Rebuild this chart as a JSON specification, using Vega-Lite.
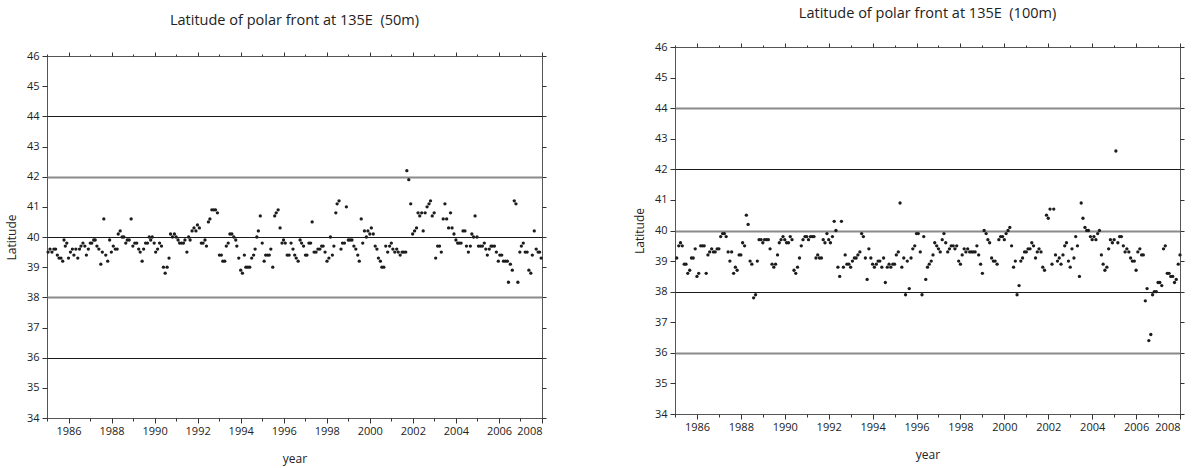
{
  "$schema": "https://vega.github.io/schema/vega-lite/v6.json",
  "background": "white",
  "padding": {"left": 4, "top": 2, "right": 8, "bottom": 2},
  "config": {
    "view": {"stroke": "#555", "strokeWidth": 1},
    "font": "Open Sans",
    "title": {"fontSize": 14.5, "fontWeight": "normal", "color": "#222", "font": "Open Sans"}
  },
  "datasets": {
    "p50": [
      {"t":1985.05,"v":39.5},{"t":1985.14,"v":39.6},{"t":1985.23,"v":39.5},{"t":1985.32,"v":39.6},{"t":1985.40,"v":39.6},{"t":1985.48,"v":39.4},{"t":1985.56,"v":39.3},{"t":1985.65,"v":39.3},{"t":1985.73,"v":39.2},{"t":1985.79,"v":39.9},{"t":1985.85,"v":39.7},{"t":1985.92,"v":39.8},
      {"t":1986.00,"v":39.3},{"t":1986.09,"v":39.5},{"t":1986.18,"v":39.6},{"t":1986.25,"v":39.4},{"t":1986.34,"v":39.6},{"t":1986.43,"v":39.3},{"t":1986.51,"v":39.6},{"t":1986.58,"v":39.7},{"t":1986.67,"v":39.8},{"t":1986.76,"v":39.7},{"t":1986.83,"v":39.4},{"t":1986.92,"v":39.6},
      {"t":1987.01,"v":39.8},{"t":1987.08,"v":39.8},{"t":1987.17,"v":39.9},{"t":1987.24,"v":39.9},{"t":1987.32,"v":39.7},{"t":1987.41,"v":39.6},{"t":1987.50,"v":39.1},{"t":1987.57,"v":39.5},{"t":1987.64,"v":40.6},{"t":1987.73,"v":39.4},{"t":1987.82,"v":39.2},{"t":1987.91,"v":39.9},
      {"t":1987.99,"v":39.5},{"t":1988.08,"v":39.7},{"t":1988.17,"v":39.6},{"t":1988.26,"v":39.6},{"t":1988.31,"v":40.1},{"t":1988.40,"v":40.2},{"t":1988.49,"v":40.0},{"t":1988.57,"v":40.0},{"t":1988.66,"v":39.8},{"t":1988.73,"v":39.9},{"t":1988.82,"v":39.9},{"t":1988.91,"v":40.6},
      {"t":1988.99,"v":39.7},{"t":1989.08,"v":39.8},{"t":1989.17,"v":39.8},{"t":1989.26,"v":39.6},{"t":1989.33,"v":39.5},{"t":1989.42,"v":39.2},{"t":1989.49,"v":39.6},{"t":1989.58,"v":39.8},{"t":1989.67,"v":39.8},{"t":1989.75,"v":40.0},{"t":1989.82,"v":39.9},{"t":1989.89,"v":40.0},
      {"t":1989.98,"v":39.8},{"t":1990.05,"v":39.5},{"t":1990.14,"v":39.6},{"t":1990.23,"v":39.8},{"t":1990.32,"v":39.7},{"t":1990.41,"v":39.0},{"t":1990.49,"v":38.8},{"t":1990.58,"v":39.0},{"t":1990.67,"v":39.3},{"t":1990.74,"v":40.1},{"t":1990.83,"v":40.0},{"t":1990.92,"v":40.1},
      {"t":1991.00,"v":40.0},{"t":1991.09,"v":39.9},{"t":1991.16,"v":39.8},{"t":1991.25,"v":39.8},{"t":1991.34,"v":39.8},{"t":1991.41,"v":39.9},{"t":1991.50,"v":39.5},{"t":1991.58,"v":40.0},{"t":1991.65,"v":39.9},{"t":1991.74,"v":40.2},{"t":1991.83,"v":40.3},{"t":1991.92,"v":40.2},
      {"t":1991.99,"v":40.4},{"t":1992.08,"v":40.3},{"t":1992.17,"v":39.8},{"t":1992.25,"v":39.8},{"t":1992.34,"v":39.9},{"t":1992.41,"v":39.7},{"t":1992.50,"v":40.5},{"t":1992.57,"v":40.6},{"t":1992.66,"v":40.9},{"t":1992.75,"v":40.9},{"t":1992.83,"v":40.9},{"t":1992.92,"v":40.8},
      {"t":1993.01,"v":39.4},{"t":1993.10,"v":39.4},{"t":1993.17,"v":39.2},{"t":1993.26,"v":39.2},{"t":1993.33,"v":39.7},{"t":1993.42,"v":39.8},{"t":1993.50,"v":40.1},{"t":1993.59,"v":40.1},{"t":1993.68,"v":40.0},{"t":1993.77,"v":39.9},{"t":1993.82,"v":39.7},{"t":1993.91,"v":39.3},
      {"t":1994.00,"v":38.9},{"t":1994.08,"v":38.8},{"t":1994.17,"v":39.4},{"t":1994.24,"v":39.0},{"t":1994.33,"v":39.0},{"t":1994.42,"v":39.0},{"t":1994.51,"v":39.3},{"t":1994.60,"v":39.4},{"t":1994.67,"v":39.6},{"t":1994.75,"v":40.0},{"t":1994.82,"v":40.2},{"t":1994.91,"v":40.7},
      {"t":1995.00,"v":39.8},{"t":1995.09,"v":39.2},{"t":1995.16,"v":39.4},{"t":1995.25,"v":39.4},{"t":1995.33,"v":39.4},{"t":1995.40,"v":39.6},{"t":1995.49,"v":39.0},{"t":1995.58,"v":40.7},{"t":1995.65,"v":40.8},{"t":1995.74,"v":40.9},{"t":1995.83,"v":40.3},{"t":1995.92,"v":39.8},
      {"t":1995.99,"v":39.9},{"t":1996.07,"v":39.8},{"t":1996.16,"v":39.4},{"t":1996.25,"v":39.4},{"t":1996.34,"v":39.8},{"t":1996.43,"v":39.6},{"t":1996.51,"v":39.4},{"t":1996.58,"v":39.3},{"t":1996.67,"v":39.2},{"t":1996.76,"v":39.9},{"t":1996.83,"v":39.8},{"t":1996.92,"v":39.7},
      {"t":1997.01,"v":39.4},{"t":1997.08,"v":39.4},{"t":1997.17,"v":39.8},{"t":1997.25,"v":39.8},{"t":1997.32,"v":40.5},{"t":1997.41,"v":39.5},{"t":1997.50,"v":39.5},{"t":1997.59,"v":39.6},{"t":1997.68,"v":39.6},{"t":1997.76,"v":39.7},{"t":1997.83,"v":39.7},{"t":1997.92,"v":39.5},
      {"t":1998.01,"v":39.2},{"t":1998.10,"v":39.3},{"t":1998.17,"v":40.0},{"t":1998.26,"v":39.4},{"t":1998.33,"v":39.7},{"t":1998.42,"v":40.8},{"t":1998.48,"v":41.1},{"t":1998.57,"v":41.2},{"t":1998.66,"v":39.6},{"t":1998.73,"v":39.8},{"t":1998.82,"v":39.8},{"t":1998.91,"v":41.0},
      {"t":1999.00,"v":39.9},{"t":1999.08,"v":39.9},{"t":1999.17,"v":39.9},{"t":1999.26,"v":39.7},{"t":1999.35,"v":39.6},{"t":1999.44,"v":39.4},{"t":1999.51,"v":39.2},{"t":1999.60,"v":40.6},{"t":1999.67,"v":39.8},{"t":1999.75,"v":40.2},{"t":1999.84,"v":40.0},{"t":1999.91,"v":40.2},
      {"t":2000.00,"v":40.1},{"t":2000.07,"v":40.3},{"t":2000.16,"v":40.1},{"t":2000.25,"v":39.7},{"t":2000.33,"v":39.6},{"t":2000.40,"v":39.3},{"t":2000.49,"v":39.2},{"t":2000.56,"v":39.0},{"t":2000.65,"v":39.0},{"t":2000.74,"v":39.7},{"t":2000.83,"v":39.5},{"t":2000.92,"v":39.7},
      {"t":2001.00,"v":39.8},{"t":2001.07,"v":39.6},{"t":2001.16,"v":39.5},{"t":2001.25,"v":39.6},{"t":2001.32,"v":39.5},{"t":2001.41,"v":39.4},{"t":2001.50,"v":39.5},{"t":2001.58,"v":39.5},{"t":2001.67,"v":39.5},{"t":2001.72,"v":42.2},{"t":2001.81,"v":41.9},{"t":2001.90,"v":41.1},
      {"t":2001.99,"v":40.1},{"t":2002.08,"v":40.2},{"t":2002.17,"v":40.3},{"t":2002.24,"v":40.8},{"t":2002.32,"v":40.7},{"t":2002.41,"v":40.8},{"t":2002.48,"v":40.2},{"t":2002.57,"v":40.8},{"t":2002.66,"v":41.0},{"t":2002.75,"v":41.1},{"t":2002.82,"v":41.2},{"t":2002.90,"v":40.7},
      {"t":2002.99,"v":40.8},{"t":2003.06,"v":39.3},{"t":2003.15,"v":39.7},{"t":2003.24,"v":39.7},{"t":2003.32,"v":39.5},{"t":2003.41,"v":40.6},{"t":2003.49,"v":41.1},{"t":2003.57,"v":40.6},{"t":2003.66,"v":40.3},{"t":2003.75,"v":40.8},{"t":2003.82,"v":40.3},{"t":2003.91,"v":40.1},
      {"t":2004.00,"v":39.9},{"t":2004.08,"v":39.8},{"t":2004.15,"v":39.8},{"t":2004.24,"v":39.8},{"t":2004.33,"v":40.2},{"t":2004.42,"v":40.2},{"t":2004.49,"v":39.7},{"t":2004.58,"v":39.5},{"t":2004.67,"v":39.7},{"t":2004.74,"v":40.1},{"t":2004.82,"v":40.0},{"t":2004.89,"v":40.7},
      {"t":2004.98,"v":40.0},{"t":2005.05,"v":39.7},{"t":2005.14,"v":39.7},{"t":2005.23,"v":39.7},{"t":2005.32,"v":39.8},{"t":2005.39,"v":39.6},{"t":2005.46,"v":39.4},{"t":2005.55,"v":39.6},{"t":2005.63,"v":39.7},{"t":2005.70,"v":39.7},{"t":2005.79,"v":39.7},{"t":2005.88,"v":39.5},
      {"t":2005.97,"v":39.2},{"t":2006.04,"v":39.4},{"t":2006.13,"v":39.4},{"t":2006.21,"v":39.2},{"t":2006.30,"v":39.2},{"t":2006.39,"v":39.2},{"t":2006.44,"v":38.5},{"t":2006.53,"v":39.1},{"t":2006.62,"v":38.9},{"t":2006.71,"v":41.2},{"t":2006.79,"v":41.1},{"t":2006.88,"v":38.5},
      {"t":2006.97,"v":39.5},{"t":2007.04,"v":39.7},{"t":2007.13,"v":39.8},{"t":2007.22,"v":39.5},{"t":2007.31,"v":39.5},{"t":2007.39,"v":38.9},{"t":2007.48,"v":38.8},{"t":2007.55,"v":39.4},{"t":2007.64,"v":40.2},{"t":2007.73,"v":39.6},{"t":2007.82,"v":39.5},{"t":2007.89,"v":39.5},{"t":2007.96,"v":39.3}
    ],
    "p100": [
      {"t":1985.08,"v":39.1},{"t":1985.17,"v":39.5},{"t":1985.25,"v":39.6},{"t":1985.33,"v":39.5},{"t":1985.42,"v":38.9},{"t":1985.50,"v":38.9},{"t":1985.58,"v":38.6},{"t":1985.67,"v":38.7},{"t":1985.75,"v":39.1},{"t":1985.83,"v":39.1},{"t":1985.92,"v":39.4},{"t":1986.00,"v":38.5},
      {"t":1986.08,"v":38.6},{"t":1986.17,"v":39.5},{"t":1986.25,"v":39.5},{"t":1986.33,"v":39.5},{"t":1986.42,"v":38.6},{"t":1986.50,"v":39.2},{"t":1986.58,"v":39.3},{"t":1986.67,"v":39.4},{"t":1986.75,"v":39.3},{"t":1986.83,"v":39.3},{"t":1986.92,"v":39.4},{"t":1987.00,"v":39.4},
      {"t":1987.08,"v":39.8},{"t":1987.17,"v":39.9},{"t":1987.25,"v":39.9},{"t":1987.33,"v":39.8},{"t":1987.42,"v":39.3},{"t":1987.50,"v":39.0},{"t":1987.58,"v":39.3},{"t":1987.67,"v":38.6},{"t":1987.75,"v":38.8},{"t":1987.83,"v":38.7},{"t":1987.92,"v":39.2},{"t":1988.00,"v":39.2},
      {"t":1988.08,"v":39.6},{"t":1988.17,"v":39.5},{"t":1988.25,"v":40.5},{"t":1988.33,"v":40.2},{"t":1988.42,"v":39.0},{"t":1988.50,"v":38.9},{"t":1988.58,"v":37.8},{"t":1988.67,"v":37.9},{"t":1988.75,"v":39.0},{"t":1988.83,"v":39.7},{"t":1988.92,"v":39.7},{"t":1989.00,"v":39.6},
      {"t":1989.08,"v":39.7},{"t":1989.17,"v":39.7},{"t":1989.25,"v":39.7},{"t":1989.33,"v":39.4},{"t":1989.42,"v":38.9},{"t":1989.50,"v":38.8},{"t":1989.58,"v":38.9},{"t":1989.67,"v":39.2},{"t":1989.75,"v":39.6},{"t":1989.83,"v":39.7},{"t":1989.92,"v":39.8},{"t":1990.00,"v":39.7},
      {"t":1990.08,"v":39.6},{"t":1990.17,"v":39.6},{"t":1990.25,"v":39.8},{"t":1990.33,"v":39.7},{"t":1990.42,"v":38.7},{"t":1990.50,"v":38.6},{"t":1990.58,"v":38.8},{"t":1990.67,"v":39.1},{"t":1990.75,"v":39.5},{"t":1990.83,"v":39.7},{"t":1990.92,"v":39.8},{"t":1991.00,"v":39.8},
      {"t":1991.08,"v":39.7},{"t":1991.17,"v":39.8},{"t":1991.25,"v":39.8},{"t":1991.33,"v":39.8},{"t":1991.42,"v":39.1},{"t":1991.50,"v":39.2},{"t":1991.58,"v":39.1},{"t":1991.67,"v":39.1},{"t":1991.75,"v":39.7},{"t":1991.83,"v":39.6},{"t":1991.92,"v":39.9},{"t":1992.00,"v":39.7},
      {"t":1992.08,"v":39.6},{"t":1992.17,"v":39.8},{"t":1992.25,"v":40.3},{"t":1992.33,"v":40.0},{"t":1992.42,"v":38.8},{"t":1992.50,"v":38.5},{"t":1992.58,"v":40.3},{"t":1992.67,"v":38.8},{"t":1992.75,"v":39.2},{"t":1992.83,"v":38.9},{"t":1992.92,"v":38.9},{"t":1993.00,"v":38.8},
      {"t":1993.08,"v":39.0},{"t":1993.17,"v":39.1},{"t":1993.25,"v":39.1},{"t":1993.33,"v":39.2},{"t":1993.42,"v":39.3},{"t":1993.50,"v":39.9},{"t":1993.58,"v":39.8},{"t":1993.67,"v":39.1},{"t":1993.75,"v":38.4},{"t":1993.83,"v":39.4},{"t":1993.92,"v":39.1},{"t":1994.00,"v":38.9},
      {"t":1994.08,"v":38.8},{"t":1994.17,"v":38.9},{"t":1994.25,"v":39.0},{"t":1994.33,"v":39.0},{"t":1994.42,"v":38.8},{"t":1994.50,"v":39.1},{"t":1994.58,"v":38.3},{"t":1994.67,"v":38.8},{"t":1994.75,"v":38.9},{"t":1994.83,"v":38.8},{"t":1994.92,"v":38.9},{"t":1995.00,"v":38.9},
      {"t":1995.08,"v":39.2},{"t":1995.17,"v":39.3},{"t":1995.25,"v":40.9},{"t":1995.33,"v":38.8},{"t":1995.42,"v":39.1},{"t":1995.50,"v":37.9},{"t":1995.58,"v":39.0},{"t":1995.67,"v":38.1},{"t":1995.75,"v":39.1},{"t":1995.83,"v":39.4},{"t":1995.92,"v":39.5},{"t":1996.00,"v":39.9},
      {"t":1996.08,"v":39.9},{"t":1996.17,"v":39.3},{"t":1996.25,"v":37.9},{"t":1996.33,"v":39.8},{"t":1996.42,"v":38.4},{"t":1996.50,"v":38.8},{"t":1996.58,"v":38.9},{"t":1996.67,"v":39.0},{"t":1996.75,"v":39.2},{"t":1996.83,"v":39.6},{"t":1996.92,"v":39.5},{"t":1997.00,"v":39.4},
      {"t":1997.08,"v":39.3},{"t":1997.17,"v":39.7},{"t":1997.25,"v":39.9},{"t":1997.33,"v":39.6},{"t":1997.42,"v":39.3},{"t":1997.50,"v":39.4},{"t":1997.58,"v":39.5},{"t":1997.67,"v":39.5},{"t":1997.75,"v":39.4},{"t":1997.83,"v":39.5},{"t":1997.92,"v":39.0},{"t":1998.00,"v":38.9},
      {"t":1998.08,"v":39.2},{"t":1998.17,"v":39.4},{"t":1998.25,"v":39.3},{"t":1998.33,"v":39.4},{"t":1998.42,"v":39.3},{"t":1998.50,"v":39.3},{"t":1998.58,"v":39.3},{"t":1998.67,"v":39.3},{"t":1998.75,"v":39.5},{"t":1998.83,"v":39.2},{"t":1998.92,"v":38.9},{"t":1999.00,"v":38.6},
      {"t":1999.08,"v":40.0},{"t":1999.17,"v":39.9},{"t":1999.25,"v":39.7},{"t":1999.33,"v":39.6},{"t":1999.42,"v":39.1},{"t":1999.50,"v":39.0},{"t":1999.58,"v":39.0},{"t":1999.67,"v":38.9},{"t":1999.75,"v":39.7},{"t":1999.83,"v":39.8},{"t":1999.92,"v":39.8},{"t":2000.00,"v":39.7},
      {"t":2000.08,"v":39.9},{"t":2000.17,"v":40.0},{"t":2000.25,"v":40.1},{"t":2000.33,"v":39.5},{"t":2000.42,"v":38.8},{"t":2000.50,"v":39.0},{"t":2000.58,"v":37.9},{"t":2000.67,"v":38.2},{"t":2000.75,"v":39.0},{"t":2000.83,"v":39.1},{"t":2000.92,"v":39.3},{"t":2001.00,"v":39.3},
      {"t":2001.08,"v":39.4},{"t":2001.17,"v":39.4},{"t":2001.25,"v":39.6},{"t":2001.33,"v":39.5},{"t":2001.42,"v":39.1},{"t":2001.50,"v":39.3},{"t":2001.58,"v":39.4},{"t":2001.67,"v":39.3},{"t":2001.75,"v":38.8},{"t":2001.83,"v":38.7},{"t":2001.92,"v":40.5},{"t":2002.00,"v":40.4},
      {"t":2002.08,"v":40.7},{"t":2002.17,"v":38.9},{"t":2002.25,"v":40.7},{"t":2002.33,"v":39.2},{"t":2002.42,"v":39.0},{"t":2002.50,"v":39.1},{"t":2002.58,"v":38.9},{"t":2002.67,"v":39.2},{"t":2002.75,"v":39.5},{"t":2002.83,"v":39.6},{"t":2002.92,"v":39.0},{"t":2003.00,"v":38.8},
      {"t":2003.08,"v":39.4},{"t":2003.17,"v":39.1},{"t":2003.25,"v":39.8},{"t":2003.33,"v":39.5},{"t":2003.42,"v":38.5},{"t":2003.50,"v":40.9},{"t":2003.58,"v":40.4},{"t":2003.67,"v":40.1},{"t":2003.75,"v":40.0},{"t":2003.83,"v":40.0},{"t":2003.92,"v":39.8},{"t":2004.00,"v":39.7},
      {"t":2004.08,"v":39.8},{"t":2004.17,"v":39.7},{"t":2004.25,"v":39.9},{"t":2004.33,"v":40.0},{"t":2004.42,"v":39.2},{"t":2004.50,"v":38.9},{"t":2004.58,"v":38.7},{"t":2004.67,"v":38.8},{"t":2004.75,"v":39.4},{"t":2004.83,"v":39.7},{"t":2004.92,"v":39.6},{"t":2005.00,"v":39.7},
      {"t":2005.08,"v":42.6},{"t":2005.17,"v":39.6},{"t":2005.25,"v":39.8},{"t":2005.33,"v":39.8},{"t":2005.42,"v":39.5},{"t":2005.50,"v":39.3},{"t":2005.58,"v":39.4},{"t":2005.67,"v":39.3},{"t":2005.75,"v":39.1},{"t":2005.83,"v":39.0},{"t":2005.92,"v":39.0},{"t":2006.00,"v":38.7},
      {"t":2006.08,"v":39.3},{"t":2006.17,"v":39.4},{"t":2006.25,"v":39.2},{"t":2006.33,"v":39.2},{"t":2006.42,"v":37.7},{"t":2006.50,"v":38.1},{"t":2006.58,"v":36.4},{"t":2006.67,"v":36.6},{"t":2006.75,"v":37.9},{"t":2006.83,"v":38.0},{"t":2006.92,"v":38.0},{"t":2007.00,"v":38.3},
      {"t":2007.08,"v":38.3},{"t":2007.17,"v":38.2},{"t":2007.25,"v":39.4},{"t":2007.33,"v":39.5},{"t":2007.42,"v":38.6},{"t":2007.50,"v":38.6},{"t":2007.58,"v":38.5},{"t":2007.67,"v":38.5},{"t":2007.75,"v":38.3},{"t":2007.83,"v":38.4},{"t":2007.92,"v":38.9},{"t":2008.00,"v":39.2}
    ]
  },
  "hconcat": [
    {
      "spacing": 9,
      "vconcat": [
        {
          "width": 1,
          "height": 1,
          "view": {"stroke": null},
          "data": {"values": []},
          "mark": {"type": "point", "opacity": 0}
        },
        {
          "width": 495,
          "height": 362,
          "title": {"text": "Latitude of polar front at 135E\u00a0 (50m)", "offset": 22},
          "data": {"name": "p50"},
          "layer": [
            {
              "mark": {"type": "circle", "size": 11, "color": "#1c1c1c", "opacity": 1},
              "encoding": {
                "x": {"field": "t", "type": "quantitative", "scale": {"domain": [1985, 2008], "nice": false, "zero": false},
                  "axis": {"orient": "bottom", "values": [1985,1986,1987,1988,1989,1990,1991,1992,1993,1994,1995,1996,1997,1998,1999,2000,2001,2002,2003,2004,2005,2006,2007,2008],
                    "format": "d", "labelExpr": "datum.value % 2 == 0 ? datum.label : ''", "labelFont": "Open Sans", "labelFontSize": 11, "labelColor": "#222", "labelPadding": 2,
                    "tickColor": "#333", "tickSize": {"condition": {"test": "datum.value % 2 == 0", "value": 5}, "value": 3},
                    "domain": false, "grid": false, "title": "year", "titleFont": "Open Sans", "titleFontSize": 12, "titleFontWeight": "normal", "titleColor": "#222", "titlePadding": 17}},
                "y": {"field": "v", "type": "quantitative", "scale": {"domain": [34, 46], "nice": false, "zero": false},
                  "axis": {"orient": "left", "values": [34,35,36,37,38,39,40,41,42,43,44,45,46], "labelFont": "Open Sans", "labelFontSize": 11, "labelColor": "#222", "labelPadding": 3,
                    "tickColor": "#333", "tickSize": 5, "domain": false, "grid": true,
                    "gridColor": {"condition": [{"test": "datum.value == 36 || datum.value == 40 || datum.value == 44", "value": "#1a1a1a"}, {"test": "datum.value == 38 || datum.value == 42", "value": "#8a8a8a"}], "value": "transparent"},
                    "gridWidth": {"condition": {"test": "datum.value == 38 || datum.value == 42", "value": 2}, "value": 1},
                    "title": "Latitude", "titleFont": "Open Sans", "titleFontSize": 12, "titleFontWeight": "normal", "titleColor": "#222", "titlePadding": 8}}
              }
            },
            {
              "mark": {"type": "circle", "opacity": 0},
              "encoding": {
                "x": {"field": "t", "type": "quantitative", "scale": {"domain": [1985, 2008], "nice": false, "zero": false},
                  "axis": {"orient": "top", "values": [1985,1986,1987,1988,1989,1990,1991,1992,1993,1994,1995,1996,1997,1998,1999,2000,2001,2002,2003,2004,2005,2006,2007,2008],
                    "labels": false, "tickColor": "#333", "tickSize": {"condition": {"test": "datum.value % 2 == 0", "value": 4}, "value": 2}, "domain": false, "grid": false, "title": null}},
                "y": {"field": "v", "type": "quantitative", "scale": {"domain": [34, 46], "nice": false, "zero": false},
                  "axis": {"orient": "right", "values": [34,35,36,37,38,39,40,41,42,43,44,45,46], "labels": false, "tickColor": "#333", "tickSize": 4, "domain": false, "grid": false, "title": null}}
              }
            }
          ],
          "resolve": {"axis": {"x": "independent", "y": "independent"}}
        }
      ]
    },
    {
      "spacing": 2,
      "vconcat": [
        {
          "width": 1,
          "height": 1,
          "view": {"stroke": null},
          "data": {"values": []},
          "mark": {"type": "point", "opacity": 0}
        },
        {
          "width": 505,
          "height": 367,
          "title": {"text": "Latitude of polar front at 135E\u00a0 (100m)", "offset": 20},
          "data": {"name": "p100"},
          "layer": [
            {
              "mark": {"type": "circle", "size": 11, "color": "#1c1c1c", "opacity": 1},
              "encoding": {
                "x": {"field": "t", "type": "quantitative", "scale": {"domain": [1985, 2008], "nice": false, "zero": false},
                  "axis": {"orient": "bottom", "values": [1985,1986,1987,1988,1989,1990,1991,1992,1993,1994,1995,1996,1997,1998,1999,2000,2001,2002,2003,2004,2005,2006,2007,2008],
                    "format": "d", "labelExpr": "datum.value % 2 == 0 ? datum.label : ''", "labelFont": "Open Sans", "labelFontSize": 11, "labelColor": "#222", "labelPadding": 2,
                    "tickColor": "#333", "tickSize": {"condition": {"test": "datum.value % 2 == 0", "value": 5}, "value": 3},
                    "domain": false, "grid": false, "title": "year", "titleFont": "Open Sans", "titleFontSize": 12, "titleFontWeight": "normal", "titleColor": "#222", "titlePadding": 17}},
                "y": {"field": "v", "type": "quantitative", "scale": {"domain": [34, 46], "nice": false, "zero": false},
                  "axis": {"orient": "left", "values": [34,35,36,37,38,39,40,41,42,43,44,45,46], "labelFont": "Open Sans", "labelFontSize": 11, "labelColor": "#222", "labelPadding": 3,
                    "tickColor": "#333", "tickSize": 5, "domain": false, "grid": true,
                    "gridColor": {"condition": [{"test": "datum.value == 38 || datum.value == 42", "value": "#1a1a1a"}, {"test": "datum.value == 36 || datum.value == 40 || datum.value == 44", "value": "#8a8a8a"}], "value": "transparent"},
                    "gridWidth": {"condition": {"test": "datum.value == 36 || datum.value == 40 || datum.value == 44", "value": 2}, "value": 1},
                    "title": "Latitude", "titleFont": "Open Sans", "titleFontSize": 12, "titleFontWeight": "normal", "titleColor": "#222", "titlePadding": 8}}
              }
            },
            {
              "mark": {"type": "circle", "opacity": 0},
              "encoding": {
                "x": {"field": "t", "type": "quantitative", "scale": {"domain": [1985, 2008], "nice": false, "zero": false},
                  "axis": {"orient": "top", "values": [1985,1986,1987,1988,1989,1990,1991,1992,1993,1994,1995,1996,1997,1998,1999,2000,2001,2002,2003,2004,2005,2006,2007,2008],
                    "labels": false, "tickColor": "#333", "tickSize": {"condition": {"test": "datum.value % 2 == 0", "value": 4}, "value": 2}, "domain": false, "grid": false, "title": null}},
                "y": {"field": "v", "type": "quantitative", "scale": {"domain": [34, 46], "nice": false, "zero": false},
                  "axis": {"orient": "right", "values": [34,35,36,37,38,39,40,41,42,43,44,45,46], "labels": false, "tickColor": "#333", "tickSize": 4, "domain": false, "grid": false, "title": null}}
              }
            }
          ],
          "resolve": {"axis": {"x": "independent", "y": "independent"}}
        }
      ]
    }
  ],
  "spacing": 85
}
